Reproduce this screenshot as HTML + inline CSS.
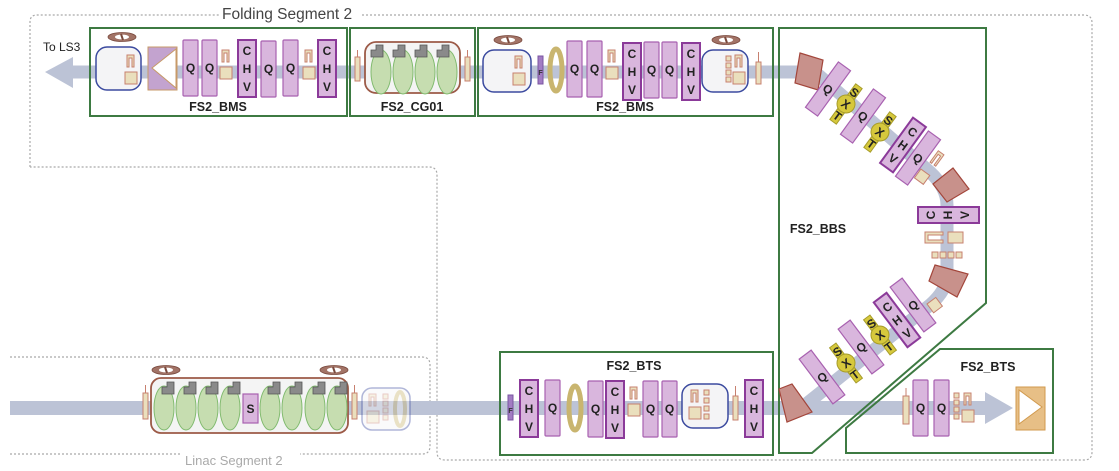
<!DOCTYPE html>
<html><head><meta charset="utf-8"><style>
html,body{margin:0;padding:0;background:#fff;}
svg{display:block;font-family:"Liberation Sans",Arial,sans-serif;}
.q{fill:#d9b6dd;stroke:#a861b0;stroke-width:1.2}
.c{fill:#d9b6dd;stroke:#8b3a99;stroke-width:2}
.t{font-weight:bold;font-size:12px;fill:#222;text-anchor:middle}
.lb{font-weight:bold;font-size:12.5px;fill:#222;text-anchor:middle}
.tan{fill:#eadfbd;stroke:#c7806f;stroke-width:1}
.gb{fill:none;stroke:#3d7a42;stroke-width:2}
.el{fill:#c6ddb0;stroke:#82bb70;stroke-width:1}
.fl{fill:#8a8a8a;stroke:#555;stroke-width:0.8}
.blu{fill:#f4f4f6;stroke:#3b4a9f;stroke-width:1.5}
.dip{fill:#c8918b;stroke:#a3463b;stroke-width:1.2}
.sx{fill:#d6c83c;stroke:#a69c2a;stroke-width:1}
.dot{fill:none;stroke:#a9a9a9;stroke-width:1.2;stroke-dasharray:2 2}
</style></head><body>
<svg width="1119" height="471" viewBox="0 0 1119 471">
<defs>
<g id="ip"><ellipse cx="0" cy="0" rx="14" ry="4.5" fill="#a27366" stroke="#7a4a3e" stroke-width="0.8"/><ellipse cx="0" cy="0" rx="7" ry="2.4" fill="#fff"/><line x1="-1" y1="-3" x2="1" y2="3" stroke="#7a4a3e" stroke-width="2"/></g>
<g id="Q"><rect class="q" x="0" y="0" width="15" height="56" rx="1"/><text class="t" x="7.5" y="32">Q</text></g>
<g id="CHV"><rect class="c" x="0" y="0" width="18" height="57"/><text class="t" x="9" y="15">C</text><text class="t" x="9" y="33">H</text><text class="t" x="9" y="51">V</text></g>
<g id="bp"><path class="tan" d="M0 0 h7 v12 h-2 v-9 h-3 v9 h-2 z"/><rect class="tan" x="-2" y="17" width="12" height="12"/></g>
<g id="fl"><path class="fl" d="M0 12 v-7 h5 v-5 h7 v12 z"/></g>
<g id="rq"><rect class="q" x="-7.5" y="-28" width="15" height="56"/><text class="t" x="0" y="4.5">Q</text></g>
<g id="rc"><rect class="c" x="-8" y="-28" width="16" height="56"/><text class="t" x="0" y="-12">C</text><text class="t" x="0" y="4.5">H</text><text class="t" x="0" y="21">V</text></g>
<g id="sxt"><rect class="sx" x="-4" y="-22" width="8" height="44"/><circle class="sx" cx="0" cy="0" r="9"/><text class="t" x="0" y="-10" font-size="9">S</text><text class="t" x="0" y="4.5">X</text><text class="t" x="0" y="19" font-size="9">T</text></g>
</defs>

<path class="dot" d="M30 167 V22 Q30 15 37 15 H220"/>
<path class="dot" d="M362 15 H1084 Q1092 15 1092 23 V452 Q1092 460 1084 460 H445 Q437 460 437 452 V175 Q437 167 429 167 H30"/>
<path class="dot" d="M10 357 H422 Q430 357 430 365 V446 Q430 454 422 454 H300"/>
<path class="dot" d="M10 454 H180"/>
<text x="222" y="19" font-size="15.5" fill="#444">Folding Segment 2</text>
<text x="185" y="465" font-size="13" fill="#aaa">Linac Segment 2</text>
<text x="43" y="51" font-size="12" fill="#222">To LS3</text>

<g fill="none" stroke="#bcc3d6" stroke-linejoin="round">
<path d="M70 72 H815 L930 172 Q947 188 947 205 V275 Q947 290 930 305 L805 405 L790 408" stroke-width="13"/>
<path d="M10 408 H988" stroke-width="14"/>
</g>
<polygon points="45,72 73,57 73,88" fill="#bcc3d6"/>
<polygon points="985,392 1013,408 985,424" fill="#bcc3d6"/>

<rect class="gb" x="90" y="28" width="257" height="88"/>
<rect class="gb" x="350" y="28" width="125" height="88"/>
<rect class="gb" x="478" y="28" width="295" height="88"/>
<polygon class="gb" points="779,28 986,28 986,303 812,453 779,453"/>
<polygon class="gb" points="940,349 1053,349 1053,453 846,453 846,428"/>
<rect class="gb" x="500" y="352" width="273" height="103"/>
<text class="lb" x="218" y="111">FS2_BMS</text>
<text class="lb" x="412" y="111">FS2_CG01</text>
<text class="lb" x="625" y="111">FS2_BMS</text>
<text class="lb" x="818" y="233">FS2_BBS</text>
<text class="lb" x="634" y="370">FS2_BTS</text>
<text class="lb" x="988" y="371">FS2_BTS</text>

<rect class="blu" x="96" y="47" width="45" height="43" rx="11"/>
<use href="#ip" x="122" y="37"/>
<use href="#bp" x="127" y="55"/>
<rect x="148" y="47" width="29" height="43" fill="#c3a3cf" stroke="#c79a68"/>
<polygon points="176,49 176,88 152,68" fill="#fff" stroke="#c79a68"/>
<use href="#Q" x="183" y="40"/><use href="#Q" x="202" y="40"/>
<use href="#bp" x="222" y="50"/>
<use href="#CHV" x="238" y="40"/>
<use href="#Q" x="261" y="41"/><use href="#Q" x="283" y="40"/>
<use href="#bp" x="305" y="50"/>
<use href="#CHV" x="318" y="40"/>

<rect class="tan" x="355" y="57" width="5" height="24"/><line x1="357.5" y1="50" x2="357.5" y2="57" stroke="#c7806f"/>
<rect x="365" y="42" width="95" height="51" rx="11" fill="#f4f4f4" stroke="#9c5a47" stroke-width="1.8"/>
<ellipse class="el" cx="381" cy="72" rx="10" ry="22"/><ellipse class="el" cx="403" cy="72" rx="10" ry="22"/><ellipse class="el" cx="425" cy="72" rx="10" ry="22"/><ellipse class="el" cx="447" cy="72" rx="10" ry="22"/>
<use href="#fl" x="371" y="45"/><use href="#fl" x="393" y="45"/><use href="#fl" x="415" y="45"/><use href="#fl" x="437" y="45"/>
<rect class="tan" x="465" y="57" width="5" height="24"/><line x1="467.5" y1="50" x2="467.5" y2="57" stroke="#c7806f"/>

<rect class="blu" x="483" y="50" width="48" height="42" rx="11"/>
<use href="#ip" x="508" y="40"/>
<use href="#bp" x="515" y="56"/>
<rect x="538" y="56" width="5" height="28" fill="#a27cc3" stroke="#7a55a0"/><text x="540.5" y="75" font-size="7" font-weight="bold" text-anchor="middle" fill="#333">F</text>
<ellipse cx="556" cy="70" rx="6" ry="21" fill="none" stroke="#c9b56f" stroke-width="5"/>
<use href="#Q" x="567" y="41"/><use href="#Q" x="587" y="41"/>
<use href="#bp" x="608" y="50"/>
<use href="#CHV" x="623" y="43"/>
<use href="#Q" x="644" y="42"/><use href="#Q" x="662" y="42"/>
<use href="#CHV" x="682" y="43"/>
<rect class="blu" x="702" y="50" width="46" height="42" rx="11"/>
<use href="#ip" x="726" y="40"/>
<g class="tan"><rect x="726" y="56" width="5" height="5"/><rect x="726" y="63" width="5" height="5"/><rect x="726" y="70" width="5" height="5"/><rect x="726" y="77" width="5" height="5"/></g>
<use href="#bp" x="735" y="55"/>
<rect class="tan" x="756" y="62" width="5" height="22"/><line x1="758.5" y1="52" x2="758.5" y2="62" stroke="#c7806f"/>

<polygon class="dip" points="800,53 823,60 818,90 795,83"/>
<g transform="translate(828,89) rotate(36)"><use href="#rq"/></g>
<g transform="translate(846,104) rotate(36)"><use href="#sxt"/></g>
<g transform="translate(863,116) rotate(36)"><use href="#rq"/></g>
<g transform="translate(880,132) rotate(36)"><use href="#sxt"/></g>
<g transform="translate(903,145) rotate(36)"><use href="#rc"/></g>
<g transform="translate(918,158) rotate(36)"><use href="#rq"/></g>
<g transform="translate(936,159) rotate(36)"><path class="tan" d="M-3 -8 h7 v14 h-2 v-11 h-3 v11 h-2 z"/></g>
<rect class="tan" x="917" y="171" width="11" height="11" transform="rotate(36 922 176)"/>
<polygon class="dip" points="933,184 953,168 969,189 947,202"/>
<rect class="c" x="918" y="207" width="61" height="16"/>
<text class="t" x="931" y="215" transform="rotate(-90 931 215)" dy="4">C</text>
<text class="t" x="948" y="215" transform="rotate(-90 948 215)" dy="4">H</text>
<text class="t" x="965" y="215" transform="rotate(-90 965 215)" dy="4">V</text>
<path class="tan" d="M925 232 h18 v3 h-15 v5 h15 v3 h-18 z"/>
<rect class="tan" x="948" y="232" width="15" height="11"/>
<g class="tan"><rect x="932" y="252" width="6" height="6"/><rect x="940" y="252" width="6" height="6"/><rect x="948" y="252" width="6" height="6"/><rect x="956" y="252" width="6" height="6"/></g>
<polygon class="dip" points="935,265 968,274 957,297 929,281"/>
<g transform="translate(914,308) rotate(-37)"><path class="tan" d="M-4 -12 h8 v20 h-2 v-16 h-4 v16 h-2 z"/></g>
<rect class="tan" x="929" y="300" width="11" height="11" transform="rotate(-37 934 305)"/>
<g transform="translate(913,305) rotate(-37)"><use href="#rq"/></g>
<g transform="translate(897,320) rotate(-37)"><use href="#rc"/></g>
<g transform="translate(880,335) rotate(-37)"><use href="#sxt"/></g>
<g transform="translate(861,347) rotate(-37)"><use href="#rq"/></g>
<g transform="translate(846,363) rotate(-37)"><use href="#sxt"/></g>
<g transform="translate(822,377) rotate(-37)"><use href="#rq"/></g>
<polygon class="dip" points="779,389 792,384 812,412 787,422"/>

<rect class="tan" x="143" y="393" width="5" height="26"/><line x1="145.5" y1="385" x2="145.5" y2="393" stroke="#c7806f"/>
<rect x="151" y="378" width="197" height="55" rx="10" fill="#f4f4f4" stroke="#9c5a47" stroke-width="1.8"/>
<use href="#ip" x="166" y="370"/><use href="#ip" x="334" y="370"/>
<g class="el"><ellipse cx="164" cy="408" rx="10" ry="22"/><ellipse cx="186" cy="408" rx="10" ry="22"/><ellipse cx="208" cy="408" rx="10" ry="22"/><ellipse cx="230" cy="408" rx="10" ry="22"/><ellipse cx="270" cy="408" rx="10" ry="22"/><ellipse cx="292" cy="408" rx="10" ry="22"/><ellipse cx="315" cy="408" rx="10" ry="22"/><ellipse cx="337" cy="408" rx="10" ry="22"/></g>
<use href="#fl" x="162" y="382"/><use href="#fl" x="184" y="382"/><use href="#fl" x="206" y="382"/><use href="#fl" x="228" y="382"/><use href="#fl" x="268" y="382"/><use href="#fl" x="290" y="382"/><use href="#fl" x="313" y="382"/><use href="#fl" x="335" y="382"/>
<rect class="q" x="243" y="394" width="15" height="29"/><text class="t" x="250.5" y="413" font-size="10">S</text>
<rect class="tan" x="352" y="393" width="5" height="26"/><line x1="354.5" y1="385" x2="354.5" y2="393" stroke="#c7806f"/>
<g opacity="0.4"><rect class="blu" x="362" y="388" width="48" height="42" rx="10" stroke="#7a86c8"/><use href="#bp" x="369" y="394"/><g class="tan"><rect x="383" y="394" width="5" height="5"/><rect x="383" y="401" width="5" height="5"/><rect x="383" y="408" width="5" height="5"/><rect x="383" y="415" width="5" height="5"/></g><ellipse cx="400" cy="409" rx="5" ry="17" fill="none" stroke="#c9b56f" stroke-width="4"/></g>

<rect x="508" y="395" width="5" height="25" fill="#a27cc3" stroke="#7a55a0"/><text x="510.5" y="413" font-size="7" font-weight="bold" text-anchor="middle" fill="#333">F</text>
<use href="#CHV" x="520" y="380"/>
<use href="#Q" x="545" y="380"/>
<ellipse cx="575" cy="408" rx="6" ry="22" fill="none" stroke="#c9b56f" stroke-width="5"/>
<use href="#Q" x="588" y="381"/>
<use href="#CHV" x="606" y="381"/>
<use href="#bp" x="630" y="387"/>
<use href="#Q" x="643" y="381"/><use href="#Q" x="662" y="381"/>
<rect class="blu" x="682" y="384" width="46" height="44" rx="11"/>
<use href="#bp" x="691" y="390"/>
<g class="tan"><rect x="704" y="390" width="5" height="5"/><rect x="704" y="398" width="5" height="5"/><rect x="704" y="406" width="5" height="5"/><rect x="704" y="414" width="5" height="5"/></g>
<rect class="tan" x="733" y="396" width="5" height="24"/><line x1="735.5" y1="386" x2="735.5" y2="396" stroke="#c7806f"/>
<use href="#CHV" x="745" y="380"/>

<rect class="tan" x="903" y="396" width="6" height="28"/><line x1="906" y1="388" x2="906" y2="396" stroke="#c7806f"/>
<use href="#Q" x="913" y="380"/><use href="#Q" x="934" y="380"/>
<g class="tan"><rect x="954" y="393" width="5" height="5"/><rect x="954" y="400" width="5" height="5"/><rect x="954" y="407" width="5" height="5"/><rect x="954" y="414" width="5" height="5"/></g>
<use href="#bp" x="964" y="393"/>
<rect x="1016" y="387" width="29" height="43" fill="#e7bf86" stroke="#d19a4e"/>
<polygon points="1019,390 1019,424 1042,407" fill="#fff" stroke="#d19a4e"/>
</svg>
</body></html>
